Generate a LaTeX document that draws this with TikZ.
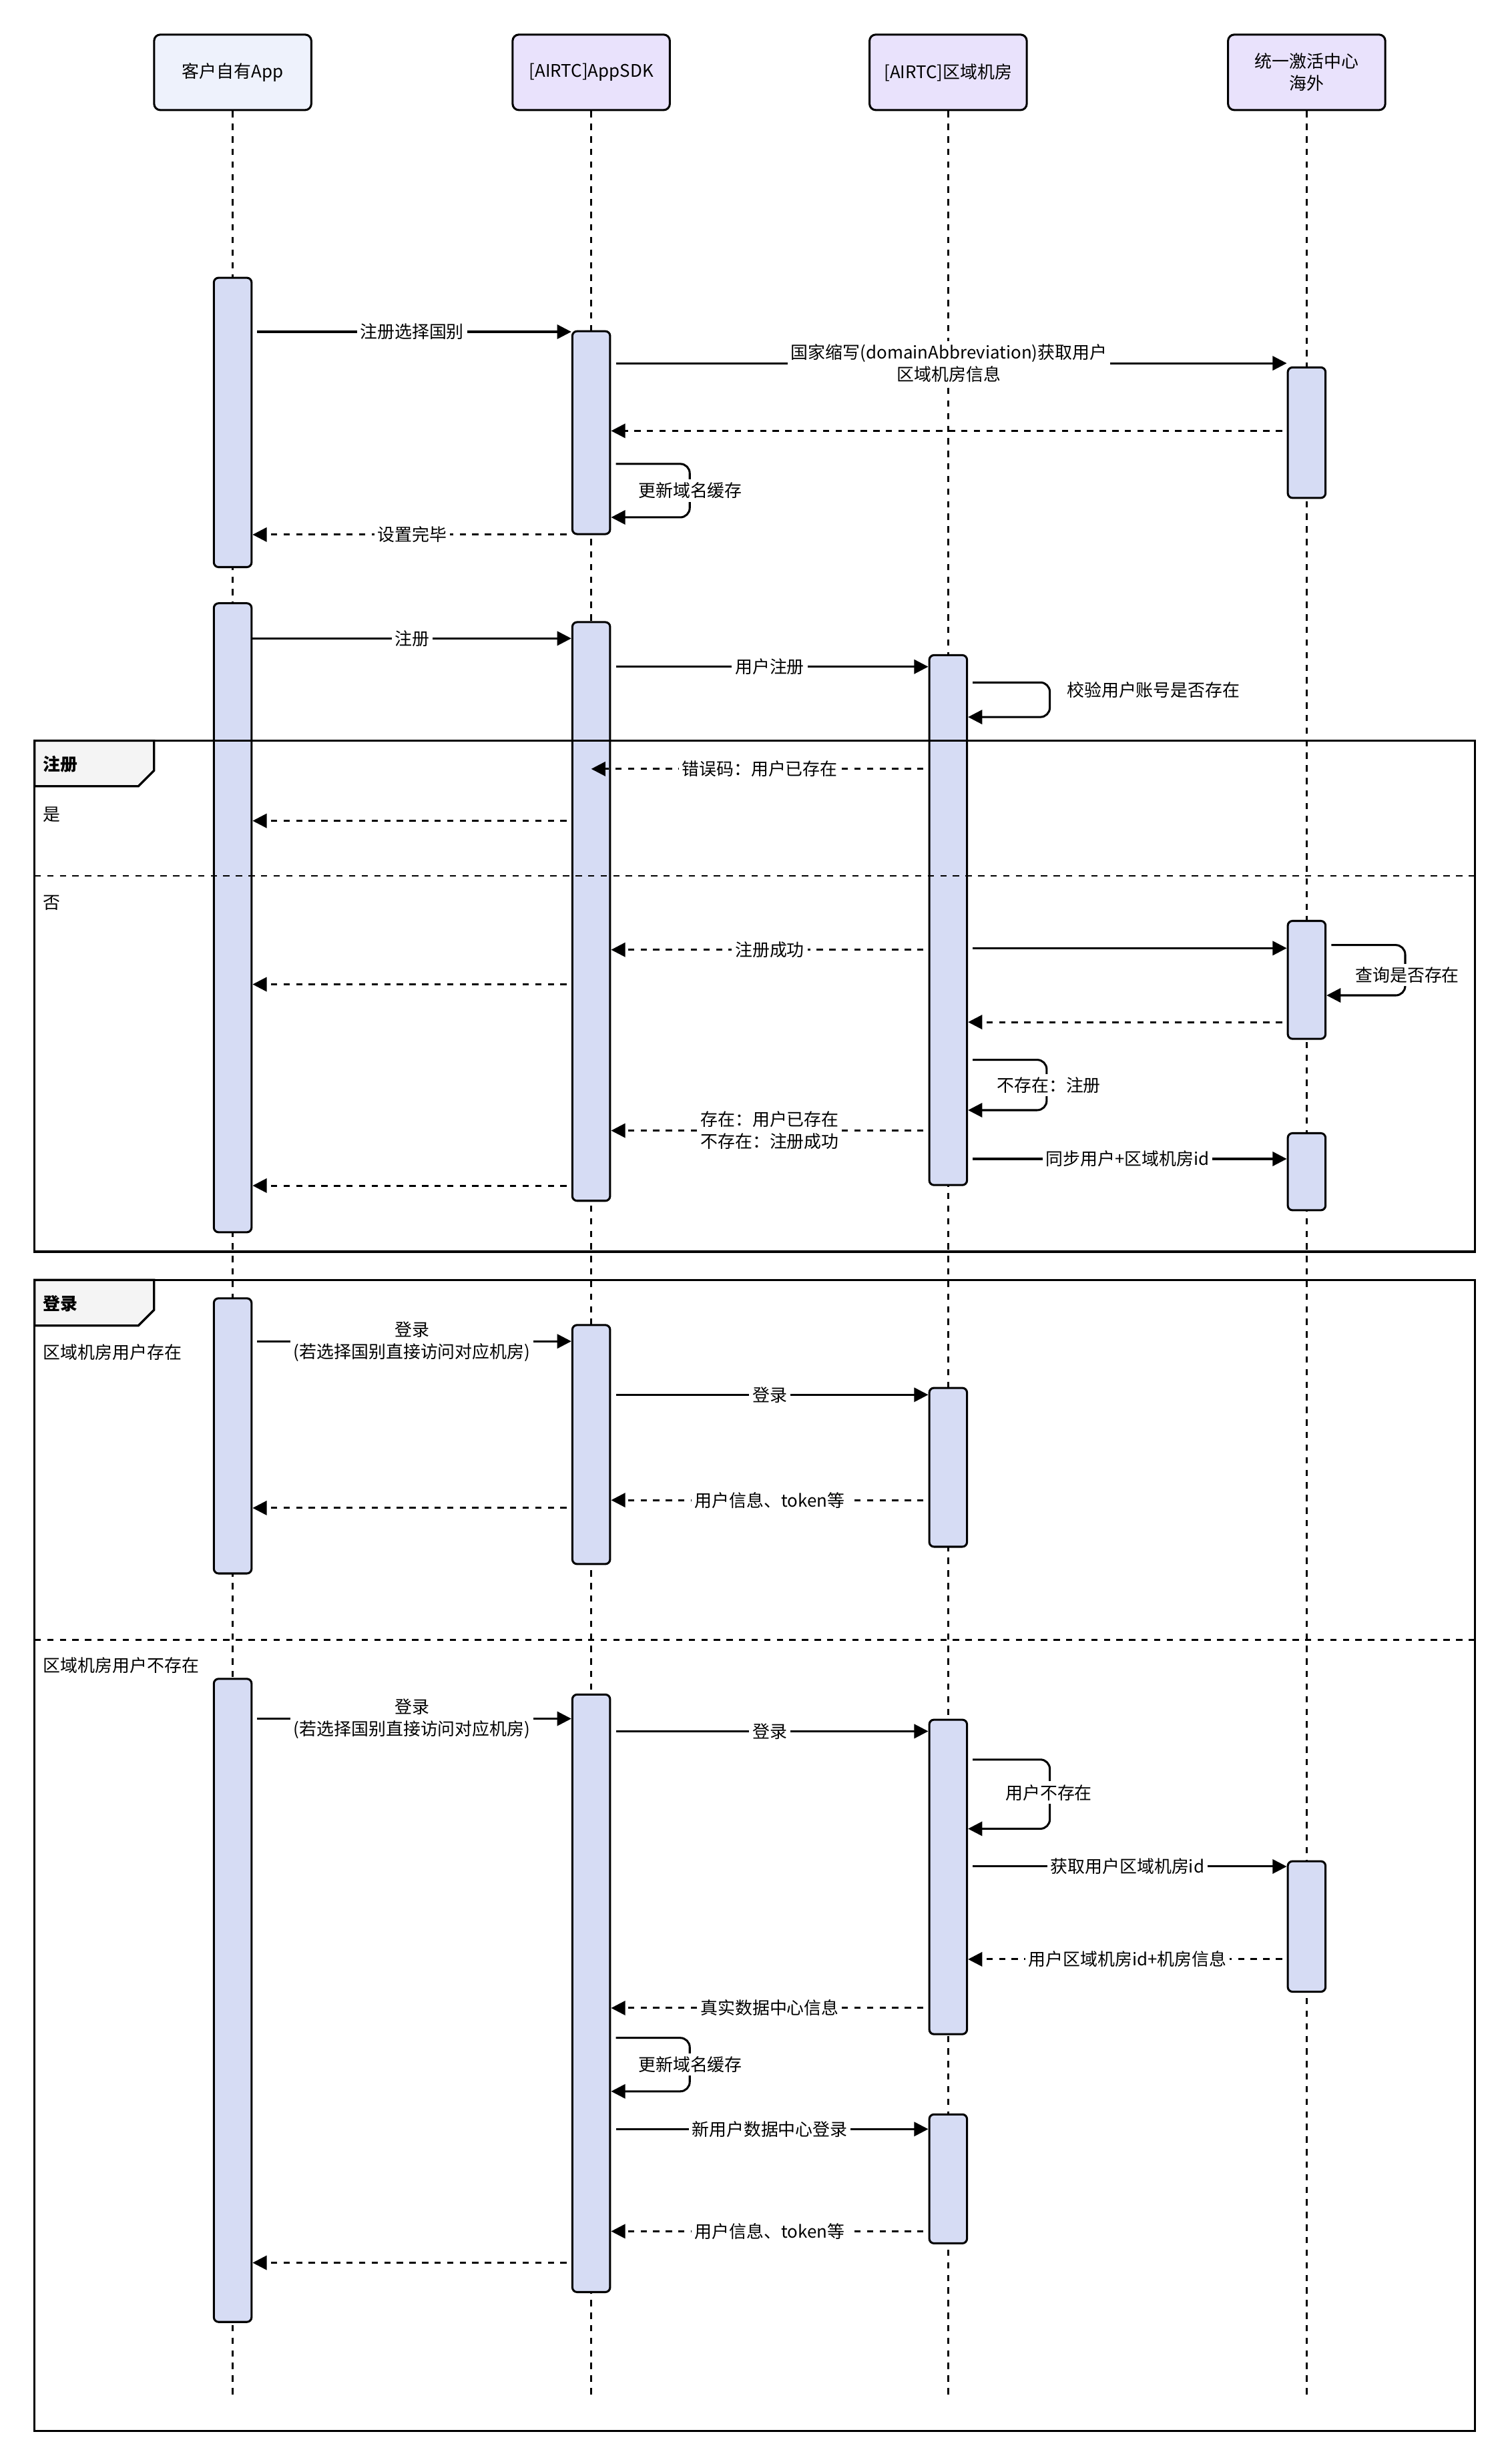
\documentclass[tikz,border=0pt]{standalone}
\usepackage{fontspec}
\setmainfont{Noto Sans CJK SC}
\usetikzlibrary{arrows.meta}
\definecolor{headA}{HTML}{EEF2FC}
\definecolor{headB}{HTML}{E9E2FC}
\definecolor{barfill}{HTML}{D6DCF4}
\definecolor{tagfill}{HTML}{F4F4F4}
\begin{document}
\begin{tikzpicture}[x=1pt,y=-1pt,
		font=\fontsize{11}{14}\selectfont,
		head/.style={draw,line width=1.3pt,rounded corners=4pt,minimum width=100pt,minimum height=48pt,align=center},
		life/.style={line width=1.2pt,dash pattern=on 4pt off 4pt},
		act/.style={draw,line width=1.3pt,fill=barfill,rounded corners=3pt,minimum width=24pt,inner sep=0pt,anchor=north},
		msg/.style={line width=1.3pt,-{Triangle[length=9pt,width=9pt]}},
		ret/.style={msg,dash pattern=on 4pt off 4pt},
		lbl/.style={fill=white,inner sep=2pt,align=center},
		frame/.style={line width=1.4pt},
		tag/.style={font=\fontsize{11}{14}\selectfont\bfseries,anchor=west}]
	\useasboundingbox (0,0) rectangle (960,1567);
	% participants
	\node[head,fill=headA] (app) at (148,46) {客户自有App};
	\node[head,fill=headB] (sdk) at (376,46) {[AIRTC]AppSDK};
	\node[head,fill=headB] (room) at (603,46) {[AIRTC]区域机房};
	\node[head,fill=headB] (hub) at (831,46) {统一激活中心\\海外};
	\foreach \p in {app,sdk,room,hub}
		\draw[life] (\p.south) -- (\p.south |- 0,1525);
	% activation bars
	\node[act,minimum height=184pt] (app1) at (148,176) {};
	\node[act,minimum height=400pt] (app2) at (148,383) {};
	\node[act,minimum height=175pt] (app3) at (148,825) {};
	\node[act,minimum height=409pt] (app4) at (148,1067) {};
	\node[act,minimum height=129pt] (sdk1) at (376,210) {};
	\node[act,minimum height=368pt] (sdk2) at (376,395) {};
	\node[act,minimum height=152pt] (sdk3) at (376,842) {};
	\node[act,minimum height=380pt] (sdk4) at (376,1077) {};
	\node[act,minimum height=337pt] (room1) at (603,416) {};
	\node[act,minimum height=101pt] (room2) at (603,882) {};
	\node[act,minimum height=200pt] (room3) at (603,1093) {};
	\node[act,minimum height=82pt] (room4) at (603,1344) {};
	\node[act,minimum height=83pt] (hub1) at (831,233) {};
	\node[act,minimum height=75pt] (hub2) at (831,585) {};
	\node[act,minimum height=49pt] (hub3) at (831,720) {};
	\node[act,minimum height=83pt] (hub4) at (831,1183) {};
	% frames
	\draw[frame] (22,471) rectangle (938,796);
	\draw[frame,fill=tagfill] (22,471) -- (98,471) -- (98,490) -- (88,500) -- (22,500) -- cycle;
	\node[tag] (tagreg) at (24,486) {注册};
	\node[anchor=west] (gyes) at (24,518) {是};
	\draw[life] (22,557) -- (938,557);
	\node[anchor=west] (gno) at (24,574) {否};
	\draw[frame] (22,814) rectangle (938,1546);
	\draw[frame,fill=tagfill] (22,814) -- (98,814) -- (98,833) -- (88,843) -- (22,843) -- cycle;
	\node[tag] (taglog) at (24,829) {登录};
	\node[anchor=west] (ghas) at (24,860) {区域机房用户存在};
	\draw[life] (22,1043) -- (938,1043);
	\node[anchor=west] (gnot) at (24,1059) {区域机房用户不存在};
	% set country
	\draw[msg,shorten <=3pt] (app1.east |- 0,211) -- (sdk1.west |- 0,211) node[lbl,midway] {注册选择国别};
	\draw[msg,shorten <=3pt] (sdk1.east |- 0,231) -- (hub1.west |- 0,231) node[lbl,midway] {国家缩写(domainAbbreviation)获取用户\\区域机房信息};
	\draw[ret,shorten <=3pt] (hub1.west |- 0,274) -- (sdk1.east |- 0,274);
	\draw[msg,rounded corners=6pt,shorten <=3pt] (sdk1.east |- 0,295) -- ++(50,0) |- (sdk1.east |- 0,329);
	\node[lbl] (upd1) at (439,312) {更新域名缓存};
	\draw[ret,shorten <=3pt] (sdk1.west |- 0,340) -- (app1.east |- 0,340) node[lbl,midway] {设置完毕};
	% register
	\draw[msg] (app2.east |- 0,406) -- (sdk2.west |- 0,406) node[lbl,midway] {注册};
	\draw[msg,shorten <=3pt] (sdk2.east |- 0,424) -- (room1.west |- 0,424) node[lbl,midway] {用户注册};
	\draw[msg,rounded corners=6pt,shorten <=3pt] (room1.east |- 0,434) -- ++(52,0) |- (room1.east |- 0,456);
	\node[anchor=west] (chk) at (675,439) {校验用户账号是否存在};
	\draw[ret,shorten <=3pt] (room1.west |- 0,489) -- (sdk2.center |- 0,489) node[lbl,midway] {错误码：用户已存在};
	\draw[ret,shorten <=3pt] (sdk2.west |- 0,522) -- (app2.east |- 0,522);
	\draw[ret,shorten <=3pt] (room1.west |- 0,604) -- (sdk2.east |- 0,604) node[lbl,midway] {注册成功};
	\draw[msg,shorten <=3pt] (room1.east |- 0,603) -- (hub2.west |- 0,603);
	\draw[msg,rounded corners=6pt,shorten <=3pt] (hub2.east |- 0,601) -- ++(50,0) |- (hub2.east |- 0,633);
	\node[lbl] (qry) at (895,620) {查询是否存在};
	\draw[ret,shorten <=3pt] (hub2.west |- 0,650) -- (room1.east |- 0,650);
	\draw[ret,shorten <=3pt] (sdk2.west |- 0,626) -- (app2.east |- 0,626);
	\draw[msg,rounded corners=6pt,shorten <=3pt] (room1.east |- 0,674) -- ++(50,0) |- (room1.east |- 0,706);
	\node[lbl] (nreg) at (667,690) {不存在：注册};
	\draw[ret,shorten <=3pt] (room1.west |- 0,719) -- (sdk2.east |- 0,719) node[lbl,midway] {存在：用户已存在\\不存在：注册成功};
	\draw[msg,shorten <=3pt] (room1.east |- 0,737) -- (hub3.west |- 0,737) node[lbl,midway] {同步用户+区域机房id};
	\draw[ret,shorten <=3pt] (sdk2.west |- 0,754) -- (app2.east |- 0,754);
	% login, user exists
	\draw[msg,shorten <=3pt] (app3.east |- 0,853) -- (sdk3.west |- 0,853) node[lbl,midway] {登录\\(若选择国别直接访问对应机房)};
	\draw[msg,shorten <=3pt] (sdk3.east |- 0,887) -- (room2.west |- 0,887) node[lbl,midway] {登录};
	\draw[ret,shorten <=3pt] (room2.west |- 0,954) -- (sdk3.east |- 0,954) node[lbl,midway] {用户信息、token等};
	\draw[ret,shorten <=3pt] (sdk3.west |- 0,959) -- (app3.east |- 0,959);
	% login, user missing
	\draw[msg,shorten <=3pt] (app4.east |- 0,1093) -- (sdk4.west |- 0,1093) node[lbl,midway] {登录\\(若选择国别直接访问对应机房)};
	\draw[msg,shorten <=3pt] (sdk4.east |- 0,1101) -- (room3.west |- 0,1101) node[lbl,midway] {登录};
	\draw[msg,rounded corners=6pt,shorten <=3pt] (room3.east |- 0,1119) -- ++(52,0) |- (room3.east |- 0,1163);
	\node[lbl] (nouser) at (667,1140) {用户不存在};
	\draw[msg,shorten <=3pt] (room3.east |- 0,1187) -- (hub4.west |- 0,1187) node[lbl,midway] {获取用户区域机房id};
	\draw[ret,shorten <=3pt] (hub4.west |- 0,1246) -- (room3.east |- 0,1246) node[lbl,midway] {用户区域机房id+机房信息};
	\draw[ret,shorten <=3pt] (room3.west |- 0,1277) -- (sdk4.east |- 0,1277) node[lbl,midway] {真实数据中心信息};
	\draw[msg,rounded corners=6pt,shorten <=3pt] (sdk4.east |- 0,1296) -- ++(50,0) |- (sdk4.east |- 0,1330);
	\node[lbl] (upd2) at (439,1313) {更新域名缓存};
	\draw[msg,shorten <=3pt] (sdk4.east |- 0,1354) -- (room4.west |- 0,1354) node[lbl,midway] {新用户数据中心登录};
	\draw[ret,shorten <=3pt] (room4.west |- 0,1419) -- (sdk4.east |- 0,1419) node[lbl,midway] {用户信息、token等};
	\draw[ret,shorten <=3pt] (sdk4.west |- 0,1439) -- (app4.east |- 0,1439);
\end{tikzpicture}
\end{document}
